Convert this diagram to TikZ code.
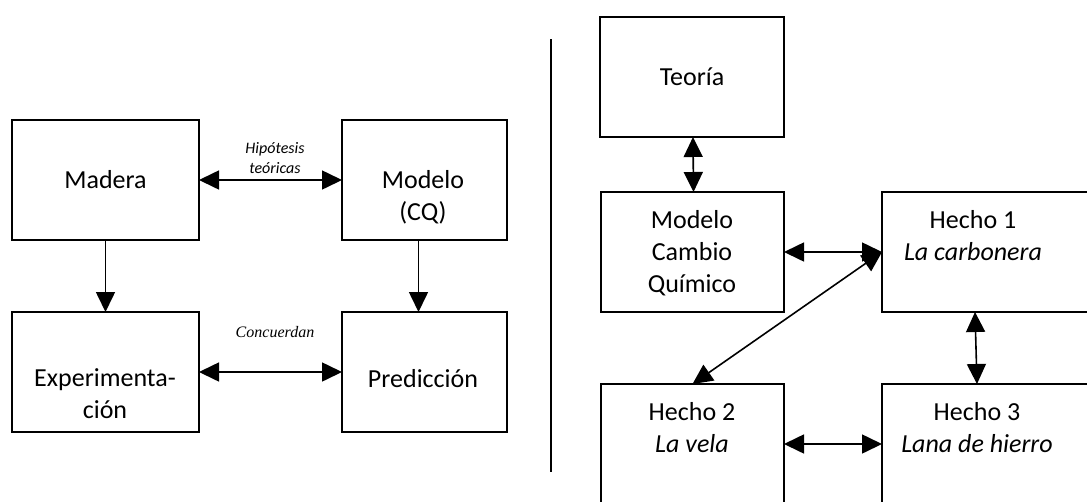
\documentclass[tikz,border=0pt]{standalone}
\usepackage{fontspec}
\setmainfont{Carlito}
\newfontfamily\timesfont{Liberation Serif}
\usetikzlibrary{arrows.meta,positioning,calc}
\tikzset{box/.style={ % empty frame, text is set on its own
            draw,
            line width=2pt,
            minimum height=120pt,
            inner sep=0pt,
            outer sep=0pt,
            anchor=north west},
        txt/.style={ % text inside the frames (base = last line)
            font=\fontsize{26}{32}\selectfont,
            align=center,
            inner sep=0pt,
            anchor=base},
        note/.style={ % small labels over the links
            font=\fontsize{16}{20}\selectfont\itshape,
            align=center,
            inner sep=0pt,
            anchor=base},
        link/.style={ % double headed arrows
            line width=1.6pt,
            {Triangle[length=20pt,width=19pt]}-{Triangle[length=20pt,width=19pt]}},
        down/.style={
            line width=1.6pt,
            -{Triangle[length=20pt,width=19pt]}}
        }

\begin{document}
\begin{tikzpicture}[x=1pt,y=-1pt]
    \useasboundingbox (0,0) rectangle (1087,501);
    \clip (0,0) rectangle (1087,501);

    % left part
    \node[box, minimum width=187pt] (madera) at (12,120) {};
    \node[box, minimum width=165pt] (modelo) at (342,120) {};
    \node[box, minimum width=187pt] (exper) at (12,312) {};
    \node[box, minimum width=165pt] (pred) at (342,312) {};

    \node[txt] (tmadera) at (105.5,188) {Madera};
    \node[txt] (tmodelo) at (423,220) {Modelo\\(CQ)};
    \node[txt] (texper) at (105,418) {Experimenta-\\ción};
    \node[txt] (tpred) at (423,387) {Predicción};

    \draw[link] (madera.east) -- (modelo.west);
    \draw[link] (exper.east) -- (pred.west);
    \draw[down] (madera.south) -- (exper.north);
    \draw[down] ([xshift=-6pt]modelo.south) -- ([xshift=-6pt]pred.north);

    \node[note] (hipo) at (275,173) {Hipótesis\\teóricas};
    \node[note, font=\fontsize{16}{20}\selectfont\timesfont\itshape] (conc) at (275,337) {Concuerdan};

    % divider
    \draw[line width=1.6pt] (551,39) -- (551,472);

    % right part
    \node[box, minimum width=184pt] (teoria) at (600,17) {};
    \node[box, minimum width=183pt] (mcq) at (601,192) {};
    \node[box, minimum width=218pt] (h1) at (882,192) {};
    \node[box, minimum width=183pt] (h2) at (601,384) {};
    \node[box, minimum width=218pt] (h3) at (882,384) {};

    \node[txt] (tteoria) at (692,85) {Teoría};
    \node[txt] (tmcq) at (692,292) {Modelo\\Cambio\\Químico};
    \node[txt] (th1) at (973,260) {Hecho 1\\\textit{La carbonera}};
    \node[txt] (th2) at (692,452) {Hecho 2\\\textit{La vela}};
    \node[txt] (th3) at (977,452) {Hecho 3\\\textit{Lana de hierro}};

    \draw[link] ([xshift=1pt]teoria.south) -- ([xshift=1pt]mcq.north);
    \draw[link] (mcq.east) -- (h1.west);
    \draw[link] (h1.west) -- (h2.north);
    \draw[link] ([xshift=-16pt]h1.south) -- ([xshift=-14pt]h3.north);
    \draw[link] (h2.east) -- (h3.west);
\end{tikzpicture}
\end{document}
